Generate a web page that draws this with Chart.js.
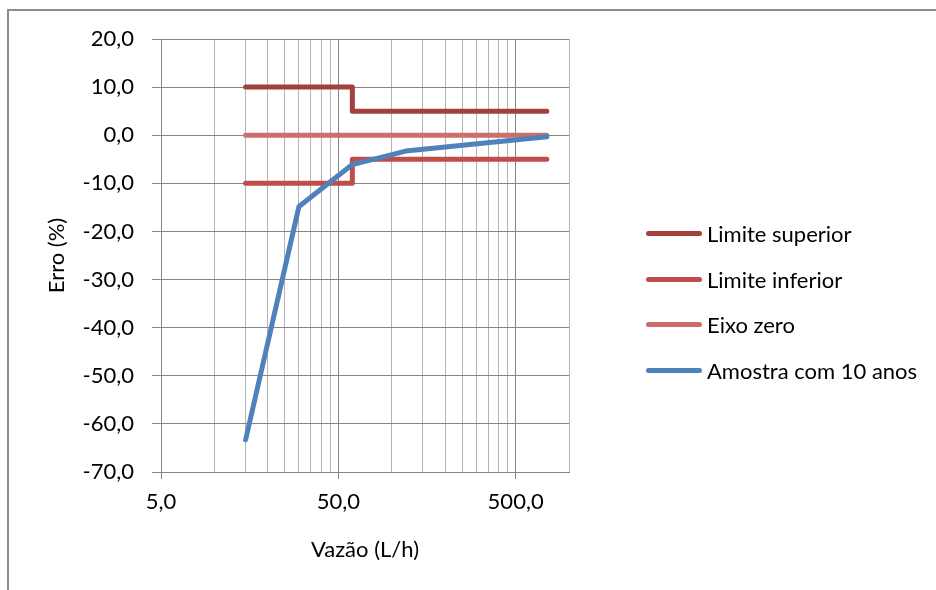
<!DOCTYPE html>
<html>
<head>
<meta charset="utf-8">
<script src="https://cdn.jsdelivr.net/npm/chart.js@4/dist/chart.umd.min.js"></script>
<style>
  body { margin: 0; background: #fff; }
  #wrap { position: relative; width: 936px; height: 590px; overflow: hidden; }
  #frame { position: absolute; left: 7px; top: 9px; width: 1000px; height: 700px;
           border-left: 2px solid #8c8c8c; border-top: 2px solid #8c8c8c; }
  #legend { position: absolute; left: 646px; top: 211px; font: 22px Lato, sans-serif; color: #000; }
  .item { height: 45.6px; display: flex; align-items: center; white-space: nowrap; }
  .swatch { width: 56px; height: 5px; border-radius: 3px; margin-right: 5px; }
</style>
</head>
<body>
<div id="wrap">
  <canvas id="chart" width="936" height="590"></canvas>
  <div id="frame"></div>
  <div id="legend"></div>
</div>
<script>
// flow (L/h) and error (%) for each series
const limitFlow = [15, 60, 60, 750];
const upperLimit = [10, 10, 5, 5];
const lowerLimit = [-10, -10, -5, -5];
const zeroFlow = [15, 750];
const zeroAxis = [0, 0];
const sampleFlow = [15, 30, 60, 120, 750];
const sampleError = [-63.3, -14.8, -6.1, -3.3, -0.3];

// gridlines on the log axis: 5..50 step 5, 50..500 step 50, then 1000
const xGrid = [5, 10, 15, 20, 25, 30, 35, 40, 45, 50, 100, 150, 200, 250, 300, 350, 400, 450, 500, 1000];
const xLabeled = [5, 50, 500];

const major = '#868686';
const minor = '#b4b4b4';
const font = { family: 'Lato, sans-serif', size: 22 };
const fmt = v => v.toFixed(1).replace('.', ',');
const pts = (xs, ys) => xs.map((x, i) => ({ x: x, y: ys[i] }));

const lineStyle = { borderWidth: 5, borderCapStyle: 'round', borderJoinStyle: 'round', pointRadius: 0, tension: 0, fill: false };

const chart = new Chart(document.getElementById('chart'), {
  type: 'line',
  data: {
    datasets: [
      Object.assign({ label: 'Limite superior', data: pts(limitFlow, upperLimit), borderColor: '#a2403d', order: 2 }, lineStyle),
      Object.assign({ label: 'Limite inferior', data: pts(limitFlow, lowerLimit), borderColor: '#bf4e4b', order: 3 }, lineStyle),
      Object.assign({ label: 'Eixo zero', data: pts(zeroFlow, zeroAxis), borderColor: '#cb6e6c', order: 4 }, lineStyle),
      Object.assign({ label: 'Amostra com 10 anos', data: pts(sampleFlow, sampleError), borderColor: '#4f81bd', order: 1 }, lineStyle)
    ]
  },
  options: {
    responsive: false,
    animation: false,
    layout: { padding: { left: 0, top: 39, right: 367, bottom: 0 } },
    plugins: { legend: { display: false }, tooltip: { enabled: false } },
    scales: {
      x: {
        type: 'logarithmic',
        min: 5,
        max: 1000,
        afterBuildTicks: s => { s.ticks = xGrid.map(v => ({ value: v })); },
        afterFit: s => { s.height = 118; },
        grid: {
          color: c => xLabeled.includes(c.tick.value) ? major : minor,
          tickColor: c => xLabeled.includes(c.tick.value) ? major : 'transparent',
          tickLength: 7
        },
        border: { color: major },
        ticks: {
          autoSkip: false,
          maxRotation: 0,
          padding: 10,
          color: '#000',
          font: font,
          callback: v => xLabeled.includes(v) ? fmt(v) : ''
        },
        title: { display: true, text: 'Vazão (L/h)', color: '#000', font: font, padding: { top: 0, bottom: 27 } }
      },
      y: {
        min: -70,
        max: 20,
        afterFit: s => { s.width = 161; },
        grid: { color: major, tickLength: 9 },
        border: { color: major },
        ticks: { stepSize: 10, padding: 18, color: '#000', font: font, callback: v => fmt(v) },
        title: { display: true, text: 'Erro (%)', color: '#000', font: font, padding: { top: 44, bottom: 0 } }
      }
    }
  }
});

// legend in dataset order, lines drawn like the series
const legend = document.getElementById('legend');
chart.data.datasets.forEach(ds => {
  const item = document.createElement('div');
  item.className = 'item';
  const sw = document.createElement('div');
  sw.className = 'swatch';
  sw.style.background = ds.borderColor;
  const txt = document.createElement('span');
  txt.textContent = ds.label;
  item.appendChild(sw);
  item.appendChild(txt);
  legend.appendChild(item);
});
</script>
</body>
</html>
